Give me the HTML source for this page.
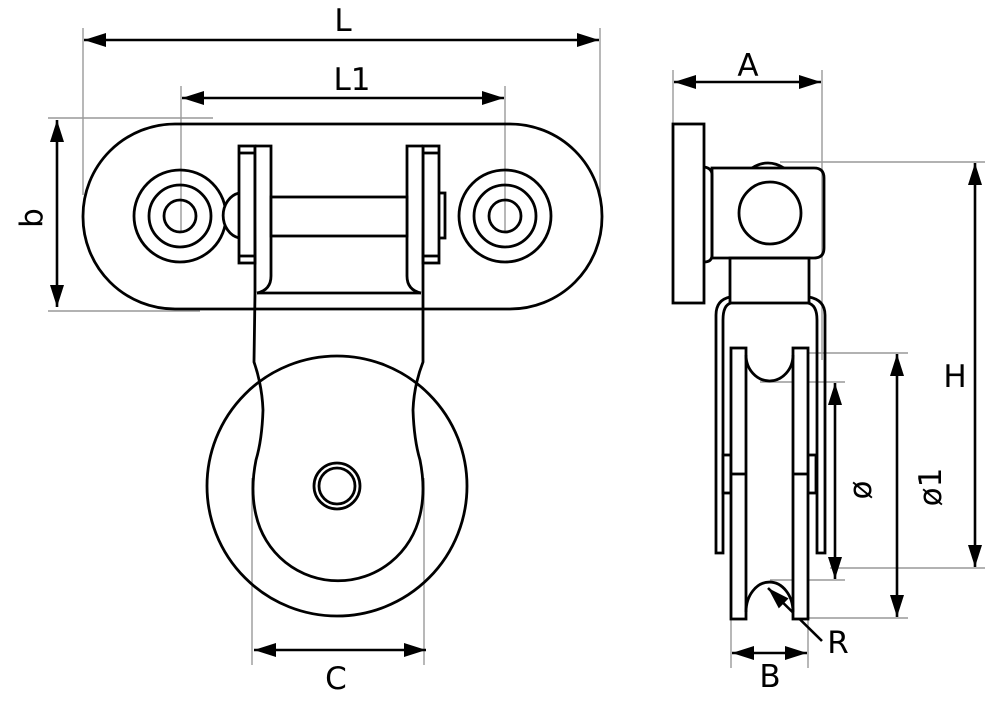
<!DOCTYPE html>
<html><head><meta charset="utf-8"><style>html,body{margin:0;padding:0;background:#fff}svg{display:block}</style></head>
<body>
<svg width="1000" height="710" viewBox="0 0 1000 710" xmlns="http://www.w3.org/2000/svg" font-family="'DejaVu Sans','Liberation Sans',sans-serif">
<defs>
<marker id="a" viewBox="0 0 22 14" refX="22" refY="7" markerWidth="22" markerHeight="14" markerUnits="userSpaceOnUse" orient="auto-start-reverse"><path d="M0,0 L22,7 L0,14 z" fill="#000"/></marker>
</defs>
<g stroke="#999" stroke-width="1.4" fill="none">
<line x1="83" y1="28" x2="83" y2="195"/><line x1="600" y1="28" x2="600" y2="200"/>
<line x1="181" y1="86" x2="181" y2="232"/><line x1="505" y1="86" x2="505" y2="232"/>
<line x1="48" y1="118" x2="213" y2="118"/><line x1="48" y1="311" x2="200" y2="311"/>
<line x1="252" y1="478" x2="252" y2="665"/><line x1="424" y1="478" x2="424" y2="665"/>
<line x1="673" y1="70" x2="673" y2="128"/><line x1="822" y1="70" x2="822" y2="360"/>
<line x1="780" y1="162" x2="985" y2="162"/><line x1="830" y1="568" x2="985" y2="568"/>
<line x1="808" y1="353" x2="908" y2="353"/><line x1="808" y1="618" x2="908" y2="618"/>
<line x1="760" y1="382" x2="845" y2="382"/><line x1="770" y1="580" x2="845" y2="580"/>
<line x1="731" y1="620" x2="731" y2="668"/><line x1="808" y1="620" x2="808" y2="668"/>
</g>
<g stroke="#000" stroke-width="2.6" fill="none" marker-start="url(#a)" marker-end="url(#a)">
<line x1="84" y1="40" x2="599" y2="40"/>
<line x1="182" y1="98" x2="504" y2="98"/>
<line x1="57" y1="120" x2="57" y2="307"/>
<line x1="254" y1="650" x2="426" y2="650"/>
<line x1="674" y1="82" x2="821" y2="82"/>
<line x1="975" y1="163" x2="975" y2="567"/>
<line x1="897" y1="354" x2="897" y2="617"/>
<line x1="835" y1="383" x2="835" y2="579"/>
<line x1="732" y1="653" x2="807" y2="653"/>
</g>
<line x1="822" y1="641" x2="768" y2="588" stroke="#000" stroke-width="2.6" marker-end="url(#a)"/>
<g font-size="31" fill="#000" text-anchor="middle">
<text x="343" y="31">L</text>
<text x="352" y="90">L1</text>
<text x="0" y="0" transform="translate(42,218) rotate(-90)">b</text>
<text x="336" y="689">C</text>
<text x="748" y="76">A</text>
<text x="955" y="387">H</text>
<text x="0" y="0" transform="translate(941,487) rotate(-90)">ø1</text>
<text x="0" y="0" transform="translate(871,490) rotate(-90)">ø</text>
<text x="770" y="687">B</text>
<text x="838" y="653">R</text>
</g>
<g stroke="#000" stroke-width="2.8" fill="none">
<rect x="83" y="124" width="519" height="185" rx="92" ry="92"/>
<circle cx="180" cy="216" r="46"/><circle cx="180" cy="216" r="31"/><circle cx="180" cy="216" r="16"/>
<circle cx="505" cy="216" r="46"/><circle cx="505" cy="216" r="31"/><circle cx="505" cy="216" r="16"/>
<path d="M239,193 A20,23 0 0 0 239,238" fill="#fff"/>
<rect x="438" y="193" width="7" height="45" fill="#fff"/>
<rect x="239" y="146" width="16" height="117" fill="#fff"/>
<line x1="239" y1="153" x2="255" y2="153"/><line x1="239" y1="256" x2="255" y2="256"/>
<rect x="423" y="146" width="16" height="117" fill="#fff"/>
<line x1="423" y1="153" x2="439" y2="153"/><line x1="423" y1="256" x2="439" y2="256"/>
<path d="M255,146 H271 V276 Q271,290 257,293" fill="#fff"/>
<path d="M423,146 H407 V276 Q407,290 421,293" fill="#fff"/>
<rect x="271" y="197" width="136" height="39" fill="#fff"/>
<line x1="257" y1="293" x2="421" y2="293"/>
<line x1="255" y1="146" x2="255" y2="293"/><line x1="423" y1="146" x2="423" y2="293"/>
<circle cx="337" cy="486" r="130"/>
<path d="M255,293 L254,362 Q262,385 263,410 Q262,440 256,460 Q250,490 256,515 A84,84 0 0 0 420,515 Q426,490 420,460 Q414,440 413,410 Q414,385 423,362 L423,293"/>
<circle cx="337" cy="486" r="23"/><circle cx="337" cy="486" r="18"/>
</g>
<g stroke="#000" stroke-width="2.8" fill="none">
<rect x="673" y="124" width="31" height="179"/>
<path d="M704,167 Q712,168 712,175 V255 Q712,262 704,262"/>
<path d="M752,168 Q768,158 784,168"/>
<path d="M712,168 H814 Q824,168 824,178 V248 Q824,258 814,258 H712 Z"/>
<circle cx="770" cy="213" r="31"/>
<rect x="730" y="258" width="79" height="45"/>
<path d="M730,297 Q716,300 716,315 V553 H723 V320 Q723,305 731,303"/>
<path d="M809,297 Q825,300 825,315 V553 H817 V320 Q817,305 808,303"/>
<rect x="723" y="455" width="8" height="38" fill="#fff"/>
<rect x="808" y="455" width="8" height="38" fill="#fff"/>
<rect x="731" y="348" width="15" height="271" fill="#fff"/>
<rect x="793" y="348" width="15" height="271" fill="#fff"/>
<line x1="731" y1="474" x2="746" y2="474"/><line x1="793" y1="474" x2="808" y2="474"/>
<path d="M746,355 A23.5,26 0 0 0 793,355"/>
<path d="M746,612 A23.5,30 0 0 1 793,612"/>
</g>
</svg>
</body></html>
